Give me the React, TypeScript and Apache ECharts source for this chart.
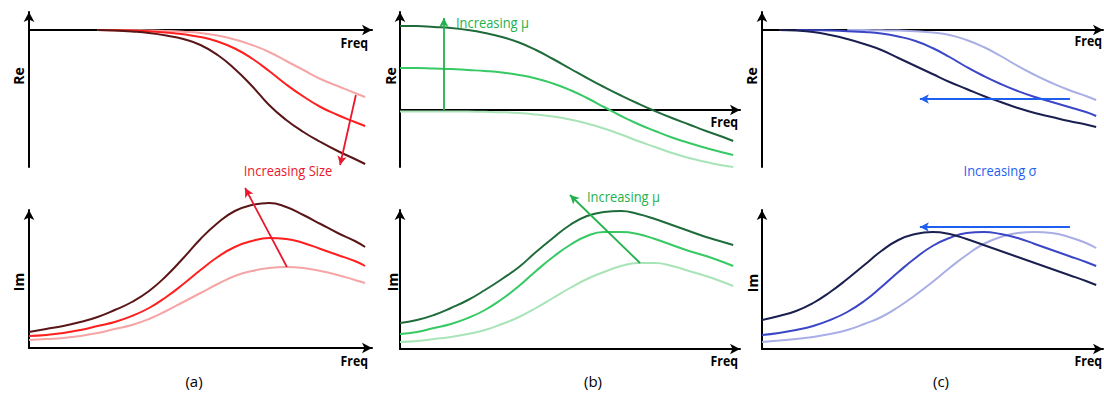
import React, { useEffect, useRef } from "react";
import * as echarts from "echarts";

// shared frequency grid (arbitrary units, axis runs 0..10)
const FREQ = [0, 0.5, 1, 1.5, 2, 2.5, 3, 3.5, 4, 4.5, 5, 5.5, 6, 6.5, 7, 7.5, 8, 8.5, 9, 9.5, 9.8];
const n = null;

// ---- panel (a): particle size ----
const aReLarge = [n, n, n, n, 0, -0.005, -0.015, -0.03, -0.055, -0.09, -0.15, -0.25, -0.39, -0.56, -0.75, -0.9, -1.02, -1.12, -1.21, -1.29, -1.34];
const aReMedium = [n, n, n, n, 0, -0.002, -0.006, -0.013, -0.025, -0.043, -0.07, -0.115, -0.185, -0.285, -0.41, -0.545, -0.665, -0.77, -0.85, -0.92, -0.96];
const aReSmall = [n, n, n, n, 0, -0.001, -0.002, -0.005, -0.01, -0.018, -0.03, -0.055, -0.095, -0.15, -0.22, -0.31, -0.4, -0.49, -0.56, -0.63, -0.67];
const aImLarge = [0.16, 0.19, 0.22, 0.26, 0.31, 0.38, 0.46, 0.57, 0.72, 0.9, 1.09, 1.25, 1.37, 1.43, 1.45, 1.41, 1.33, 1.24, 1.15, 1.07, 1.01];
const aImMedium = [0.12, 0.13, 0.15, 0.18, 0.22, 0.26, 0.32, 0.4, 0.51, 0.64, 0.78, 0.91, 1.01, 1.07, 1.1, 1.09, 1.05, 0.99, 0.93, 0.87, 0.82];
const aImSmall = [0.08, 0.09, 0.1, 0.12, 0.15, 0.19, 0.23, 0.29, 0.37, 0.46, 0.55, 0.64, 0.72, 0.77, 0.8, 0.81, 0.8, 0.77, 0.73, 0.68, 0.65];
const aReArrow: number[][] = [[9.53, -0.65], [9.07, -1.35]];
const aImArrow: number[][] = [[7.52, 0.81], [6.3, 1.6]];

// ---- panel (b): mean mu ----
const bReHigh = [0.84, 0.84, 0.83, 0.82, 0.8, 0.77, 0.73, 0.675, 0.6, 0.51, 0.415, 0.32, 0.23, 0.145, 0.065, -0.01, -0.08, -0.145, -0.21, -0.27, -0.31];
const bReMid = [0.42, 0.42, 0.415, 0.41, 0.4, 0.39, 0.375, 0.35, 0.315, 0.265, 0.2, 0.12, 0.03, -0.06, -0.14, -0.21, -0.275, -0.33, -0.38, -0.425, -0.45];
const bReLow = [-0.015, -0.015, -0.015, -0.015, -0.016, -0.018, -0.022, -0.03, -0.045, -0.065, -0.095, -0.135, -0.185, -0.245, -0.31, -0.37, -0.43, -0.48, -0.52, -0.555, -0.57];
const bImHigh = [0.26, 0.29, 0.34, 0.41, 0.49, 0.59, 0.7, 0.82, 0.97, 1.11, 1.24, 1.33, 1.37, 1.38, 1.35, 1.3, 1.24, 1.18, 1.12, 1.07, 1.04];
const bImMid = [0.15, 0.17, 0.21, 0.25, 0.31, 0.39, 0.5, 0.63, 0.78, 0.92, 1.04, 1.13, 1.17, 1.17, 1.15, 1.1, 1.04, 0.98, 0.93, 0.87, 0.83];
const bImLow = [0.07, 0.08, 0.1, 0.12, 0.15, 0.19, 0.25, 0.32, 0.41, 0.51, 0.61, 0.7, 0.77, 0.83, 0.86, 0.86, 0.83, 0.78, 0.73, 0.67, 0.63];
const bReArrow: number[][] = [[1.29, 0], [1.29, 0.92]];
const bImArrow: number[][] = [[7.06, 0.86], [5.0, 1.54]];

// ---- panel (c): spread sigma ----
const cReHigh = [n, 0, -0.005, -0.02, -0.05, -0.09, -0.14, -0.2, -0.28, -0.36, -0.44, -0.52, -0.59, -0.66, -0.72, -0.78, -0.83, -0.87, -0.91, -0.945, -0.97];
const cReMid = [n, n, 0, -0.002, -0.006, -0.012, -0.02, -0.035, -0.065, -0.11, -0.18, -0.27, -0.37, -0.46, -0.54, -0.61, -0.67, -0.72, -0.77, -0.82, -0.86];
const cReLow = [n, n, n, n, n, 0, -0.001, -0.003, -0.006, -0.012, -0.025, -0.05, -0.1, -0.17, -0.26, -0.36, -0.45, -0.53, -0.6, -0.66, -0.7];
const cImHigh = [0.29, 0.33, 0.38, 0.46, 0.57, 0.7, 0.84, 0.98, 1.09, 1.15, 1.17, 1.15, 1.1, 1.04, 0.98, 0.92, 0.86, 0.8, 0.74, 0.68, 0.64];
const cImMid = [0.14, 0.16, 0.19, 0.23, 0.29, 0.37, 0.48, 0.62, 0.77, 0.91, 1.03, 1.11, 1.16, 1.17, 1.15, 1.11, 1.05, 0.99, 0.93, 0.87, 0.83];
const cImLow = [0.07, 0.085, 0.1, 0.12, 0.15, 0.19, 0.25, 0.32, 0.42, 0.54, 0.67, 0.81, 0.94, 1.05, 1.12, 1.16, 1.17, 1.16, 1.12, 1.06, 1.01];
const cReArrow: number[][] = [[9.03, -0.69], [4.63, -0.69]];
const cImArrow: number[][] = [[9.03, 1.22], [4.63, 1.22]];

const axisLabels = ["Re", "Im", "Freq"];
const panelLabels = ["(a)", "(b)", "(c)"];
const arrowTexts = ["Increasing Size", "Increasing μ", "Increasing σ"];

const RED = ["#5a1616", "#ff1f1f", "#f5a5a5"];
const GREEN = ["#1f6b3a", "#36c964", "#a8e4b7"];
const BLUE = ["#1b1f50", "#3b46c6", "#a9aee6"];
const ARROW = ["#e8192c", "#22b14c", "#1f5ff0"];

const FONT = "'Open Sans', sans-serif";

export default function App() {
  const ref = useRef<HTMLDivElement>(null);
  useEffect(() => {
    if (!ref.current) return;
    const chart = echarts.init(ref.current, null, { renderer: "svg" });

    const grids = [
      { left: 29, top: 12, width: 343, height: 155 },
      { left: 29, top: 210, width: 343, height: 138 },
      { left: 400, top: 12, width: 340, height: 155 },
      { left: 400, top: 210, width: 340, height: 139 },
      { left: 762, top: 12, width: 341, height: 155 },
      { left: 762, top: 210, width: 341, height: 139 },
      // hidden overlays (same units, taller) for the annotation arrows of (a) and (b) Im
      { left: 29, top: 180, width: 343, height: 168 },
      { left: 400, top: 180, width: 340, height: 169 },
    ];
    const yRanges = [
      [-1.37, 0.18],
      [0, 1.38],
      [-0.57, 0.98],
      [0, 1.39],
      [-1.37, 0.18],
      [0, 1.39],
      [0, 1.68],
      [0, 1.69],
    ];
    const axisLine = {
      show: true,
      onZero: true,
      symbol: ["none", "arrow"],
      symbolSize: [8, 10],
      lineStyle: { color: "#000", width: 2 },
    };
    const xAxis = grids.map((_, i) => ({
      type: "value",
      gridIndex: i,
      min: 0,
      max: 10,
      show: i < 6,
      axisLine,
      axisTick: { show: false },
      axisLabel: { show: false },
      splitLine: { show: false },
    }));
    const yAxis = grids.map((_, i) => ({
      type: "value",
      gridIndex: i,
      min: yRanges[i][0],
      max: yRanges[i][1],
      show: i < 6,
      axisLine,
      axisTick: { show: false },
      axisLabel: { show: false },
      splitLine: { show: false },
    }));

    const curves: [number, (number | null)[], string][] = [
      [0, aReSmall, RED[2]], [0, aReMedium, RED[1]], [0, aReLarge, RED[0]],
      [1, aImSmall, RED[2]], [1, aImMedium, RED[1]], [1, aImLarge, RED[0]],
      [2, bReLow, GREEN[2]], [2, bReMid, GREEN[1]], [2, bReHigh, GREEN[0]],
      [3, bImLow, GREEN[2]], [3, bImMid, GREEN[1]], [3, bImHigh, GREEN[0]],
      [4, cReLow, BLUE[2]], [4, cReMid, BLUE[1]], [4, cReHigh, BLUE[0]],
      [5, cImLow, BLUE[2]], [5, cImMid, BLUE[1]], [5, cImHigh, BLUE[0]],
    ];
    const arrows: [number, number[][], string][] = [
      [0, aReArrow, ARROW[0]], [6, aImArrow, ARROW[0]],
      [2, bReArrow, ARROW[1]], [7, bImArrow, ARROW[1]],
      [4, cReArrow, ARROW[2]], [5, cImArrow, ARROW[2]],
    ];

    const series: any[] = curves.map(([g, vals, color]) => ({
      type: "line",
      xAxisIndex: g,
      yAxisIndex: g,
      data: FREQ.map((f, i) => [f, vals[i]]).filter((p) => p[1] !== null),
      smooth: 0.5,
      showSymbol: false,
      clip: false,
      silent: true,
      lineStyle: { color, width: 2 },
      z: 3,
    }));
    arrows.forEach(([g, pts, color]) => {
      series.push({
        type: "line",
        xAxisIndex: g,
        yAxisIndex: g,
        data: [],
        clip: false,
        silent: true,
        z: 4,
        markLine: {
          silent: true,
          animation: false,
          symbol: ["none", "arrow"],
          symbolSize: [7, 9],
          label: { show: false },
          lineStyle: { color, width: 1.8, type: "solid" },
          data: [[{ coord: pts[0] }, { coord: pts[1] }]],
        },
      });
    });

    const txt = (x: number, y: number, text: string, opts: any = {}) => ({
      type: "text",
      x,
      y,
      rotation: opts.rotation || 0,
      scaleX: opts.sx || 1,
      style: {
        text,
        fill: opts.fill || "#000",
        font: `${opts.weight || "normal"} ${opts.size || 14}px ${FONT}`,
        align: opts.align || "center",
        verticalAlign: "middle",
      },
    });

    const axisName = { weight: "bold", size: 14, sx: 0.88 };
    const reName = { rotation: Math.PI / 2, weight: "bold", size: 14 };
    const note = (fill: string, align = "center") => ({ fill, size: 15, sx: 0.86, align });

    const graphic: any[] = [
      txt(18, 76, axisLabels[0], reName),
      txt(18, 282, axisLabels[1], reName),
      txt(390, 76, axisLabels[0], reName),
      txt(392, 282, axisLabels[1], reName),
      txt(751, 76, axisLabels[0], reName),
      txt(752, 283, axisLabels[1], reName),
      txt(368, 43, axisLabels[2], { ...axisName, align: "right" }),
      txt(368, 361, axisLabels[2], { ...axisName, align: "right" }),
      txt(738, 122, axisLabels[2], { ...axisName, align: "right" }),
      txt(738, 361, axisLabels[2], { ...axisName, align: "right" }),
      txt(1102, 41, axisLabels[2], { ...axisName, align: "right" }),
      txt(1102, 361, axisLabels[2], { ...axisName, align: "right" }),
      txt(194, 381, panelLabels[0], { size: 15 }),
      txt(593, 381, panelLabels[1], { size: 15 }),
      txt(941, 381, panelLabels[2], { size: 15 }),
      txt(288, 170, arrowTexts[0], note(ARROW[0])),
      txt(456, 22, arrowTexts[1], note(ARROW[1], "left")),
      txt(587, 196, arrowTexts[1], note(ARROW[1], "left")),
      txt(1000, 170, arrowTexts[2], note(ARROW[2])),
    ];

    chart.setOption({
      animation: false,
      backgroundColor: "#fff",
      grid: grids.map((g) => ({ ...g, containLabel: false })),
      xAxis,
      yAxis,
      series,
      graphic,
    });
    return () => chart.dispose();
  }, []);
  return (
    <div
      ref={ref}
      style={{ position: "fixed", left: 0, top: 0, width: 1104, height: 393, background: "#fff" }}
    />
  );
}
